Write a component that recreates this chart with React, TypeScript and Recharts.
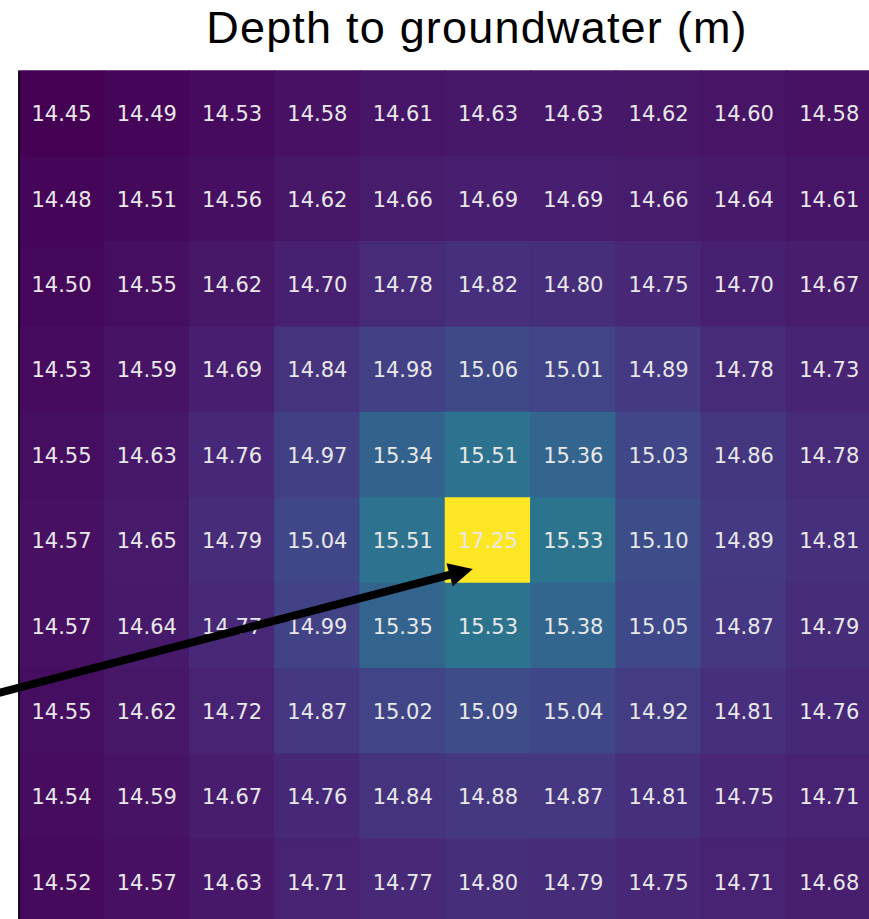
import { BarChart, Bar, XAxis, YAxis, Cell, LabelList } from 'recharts';

// Simulated depth to groundwater (m) on a 10 x 10 grid, rows top to bottom
const row0 = [14.45, 14.49, 14.53, 14.58, 14.61, 14.63, 14.63, 14.62, 14.6, 14.58];
const row1 = [14.48, 14.51, 14.56, 14.62, 14.66, 14.69, 14.69, 14.66, 14.64, 14.61];
const row2 = [14.5, 14.55, 14.62, 14.7, 14.78, 14.82, 14.8, 14.75, 14.7, 14.67];
const row3 = [14.53, 14.59, 14.69, 14.84, 14.98, 15.06, 15.01, 14.89, 14.78, 14.73];
const row4 = [14.55, 14.63, 14.76, 14.97, 15.34, 15.51, 15.36, 15.03, 14.86, 14.78];
const row5 = [14.57, 14.65, 14.79, 15.04, 15.51, 17.25, 15.53, 15.1, 14.89, 14.81];
const row6 = [14.57, 14.64, 14.77, 14.99, 15.35, 15.53, 15.38, 15.05, 14.87, 14.79];
const row7 = [14.55, 14.62, 14.72, 14.87, 15.02, 15.09, 15.04, 14.92, 14.81, 14.76];
const row8 = [14.54, 14.59, 14.67, 14.76, 14.84, 14.88, 14.87, 14.81, 14.75, 14.71];
const row9 = [14.52, 14.57, 14.63, 14.71, 14.77, 14.8, 14.79, 14.75, 14.71, 14.68];

const rows = [row0, row1, row2, row3, row4, row5, row6, row7, row8, row9];
const columns = ['0', '1', '2', '3', '4', '5', '6', '7', '8', '9'];
const rowTicks = [0.5, 1.5, 2.5, 3.5, 4.5, 5.5, 6.5, 7.5, 8.5, 9.5];

// well location the arrow points at (column, row in grid units)
const wellPoint = { col: 5.32, row: 5.83 };

const all = rows.flat();
const vmin = Math.min(...all);
const vmax = Math.max(...all);

const viridisStops: [number, string][] = [
  [0.0, '#440154'],
  [0.05, '#471365'],
  [0.1, '#482475'],
  [0.15, '#453781'],
  [0.2, '#414487'],
  [0.25, '#3b528b'],
  [0.3, '#355f8d'],
  [0.35, '#306a8e'],
  [0.4, '#2a788e'],
  [0.45, '#25858e'],
  [0.5, '#21918c'],
  [0.6, '#22a884'],
  [0.7, '#44bf70'],
  [0.8, '#7ad151'],
  [0.9, '#bddf26'],
  [1.0, '#fde725'],
];

function hexToRgb(h: string) {
  return [1, 3, 5].map((i) => parseInt(h.slice(i, i + 2), 16));
}

function viridis(v: number) {
  const t = Math.max(0, Math.min(1, (v - vmin) / (vmax - vmin)));
  for (let i = 1; i < viridisStops.length; i++) {
    const [t1, c1] = viridisStops[i];
    const [t0, c0] = viridisStops[i - 1];
    if (t <= t1) {
      const f = (t - t0) / (t1 - t0);
      const a = hexToRgb(c0);
      const b = hexToRgb(c1);
      const rgb = a.map((x, k) => Math.round(x + (b[k] - x) * f));
      return `rgb(${rgb.join(',')})`;
    }
  }
  return viridisStops[viridisStops.length - 1][1];
}

// one entry per column; each row is a unit-height segment in the stack
const data = columns.map((col, c) => {
  const entry: Record<string, number | string> = { col };
  rows.forEach((r, i) => {
    entry[`v${i}`] = r[c];
  });
  return entry;
});

const WIDTH = 880;
const HEIGHT = 935;
const margin = { top: 71, right: 8, bottom: 10, left: 0 };
const yAxisWidth = 19;
const plotW = WIDTH - margin.left - margin.right - yAxisWidth;
const plotH = HEIGHT - margin.top - margin.bottom;

function Arrow() {
  const tipX = margin.left + yAxisWidth + (wellPoint.col / columns.length) * plotW;
  const tipY = margin.top + (wellPoint.row / rows.length) * plotH;
  const sx = -5;
  const sy = 694;
  const len = Math.hypot(tipX - sx, tipY - sy);
  const dx = (tipX - sx) / len;
  const dy = (tipY - sy) / len;
  const head = 24;
  const half = 12;
  const bx = tipX - dx * head;
  const by = tipY - dy * head;
  const pts = [
    [tipX, tipY],
    [bx - dy * half, by + dx * half],
    [bx + dy * half, by - dx * half],
  ]
    .map((p) => p.join(','))
    .join(' ');
  return (
    <g>
      <line x1={sx} y1={sy} x2={bx + dx * 2} y2={by + dy * 2} stroke="#000" strokeWidth={8} />
      <polygon points={pts} fill="#000" />
    </g>
  );
}

export default function App() {
  return (
    <div
      style={{
        position: 'absolute',
        left: 0,
        top: 0,
        width: 869,
        height: 919,
        overflow: 'hidden',
        background: '#fff',
        fontFamily: 'DejaVu Sans',
      }}
    >
      <BarChart
        width={WIDTH}
        height={HEIGHT}
        data={data}
        margin={margin}
        barCategoryGap={0}
        barGap={0}
      >
        <XAxis
          dataKey="col"
          orientation="top"
          height={0}
          tick={false}
          tickLine={false}
          axisLine={{ stroke: '#000', strokeWidth: 1.5 }}
        />
        <YAxis
          type="number"
          domain={[0, 10]}
          reversed
          ticks={rowTicks}
          width={yAxisWidth}
          tick={false}
          tickSize={3.5}
          tickLine={{ stroke: '#000', strokeWidth: 1 }}
          axisLine={{ stroke: '#000', strokeWidth: 1.5 }}
        />
        {rows.map((r, i) => (
          <Bar key={i} dataKey={() => 1} stackId="grid" isAnimationActive={false}>
            {r.map((v, c) => (
              <Cell key={c} fill={viridis(v)} stroke={viridis(v)} strokeWidth={1.5} />
            ))}
            <LabelList
              dataKey={`v${i}`}
              position="center"
              fill="#e8e8e8"
              fontSize={21}
              fontFamily="DejaVu Sans"
              formatter={(v: number) => v.toFixed(2)}
            />
          </Bar>
        ))}
      </BarChart>
      <svg
        width={869}
        height={919}
        style={{ position: 'absolute', left: 0, top: 0, pointerEvents: 'none' }}
      >
        <text
          x={477}
          y={43}
          textAnchor="middle"
          fontFamily="Liberation Sans"
          fontSize={45}
          letterSpacing={1.2}
          fill="#000"
        >
          Depth to groundwater (m)
        </text>
        <Arrow />
      </svg>
    </div>
  );
}
